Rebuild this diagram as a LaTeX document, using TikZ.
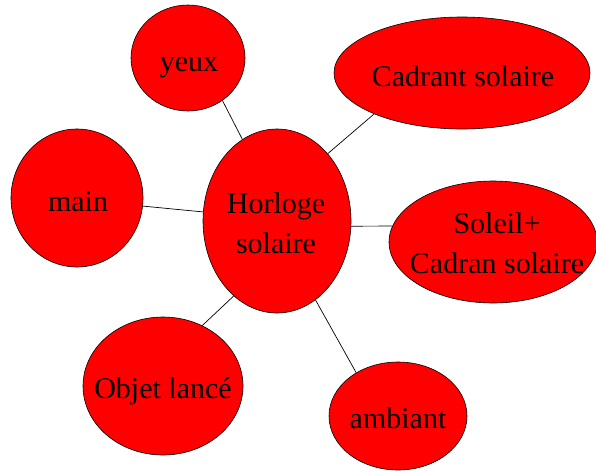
\documentclass[tikz,border=0pt]{standalone}
\usepackage{fontspec}
\setmainfont{Liberation Serif}
\usetikzlibrary{shapes.geometric}
\definecolor{bubblered}{RGB}{255,0,0}
\begin{document}
\begin{tikzpicture}[x=1pt,y=-1pt,
  bubble/.style={ellipse,draw=black,line width=0.6pt,fill=bubblered,inner sep=0pt},
  lbl/.style={anchor=base,inner sep=0pt,font=\fontsize{30}{40}\selectfont,align=center},
  link/.style={draw=black,line width=0.7pt}]
\useasboundingbox (0,0) rectangle (596,471);
\node[bubble,minimum width=148pt,minimum height=184pt] (hor) at (277,221) {};
\node[bubble,minimum width=114pt,minimum height=106pt] (yeux) at (188,58) {};
\node[bubble,minimum width=256pt,minimum height=112pt] (cad) at (462,73) {};
\node[bubble,minimum width=132pt,minimum height=138pt] (main) at (77,198) {};
\node[bubble,minimum width=208pt,minimum height=122pt] (sol) at (493,242) {};
\node[bubble,minimum width=160pt,minimum height=138pt] (obj) at (163,386) {};
\node[bubble,minimum width=138pt,minimum height=108pt] (amb) at (398,416) {};

\node[lbl] (thor1) at (276,213) {Horloge};
\node[lbl] (thor2) at (276,253) {solaire};
\node[lbl] (tyeux) at (189,71) {yeux};
\node[lbl] (tcad) at (463,86) {Cadrant solaire};
\node[lbl] (tmain) at (78,211) {main};
\node[lbl] (tsol1) at (497,233) {Soleil+};
\node[lbl] (tsol2) at (497,273) {Cadran solaire};
\node[lbl] (tobj) at (163,398) {Objet lancé};
\node[lbl] (tamb) at (398,428) {ambiant};

\draw[link] (yeux.-51) -- (hor.113.6);
\draw[link] (main.-7) -- (hor.173);
\draw[link] (cad.205.5) -- (hor.53.7);
\draw[link] (sol.171.8) -- (hor.-4.7);
\draw[link] (obj.57) -- (hor.240.2);
\draw[link] (amb.134.4) -- (hor.-64);
\end{tikzpicture}
\end{document}
